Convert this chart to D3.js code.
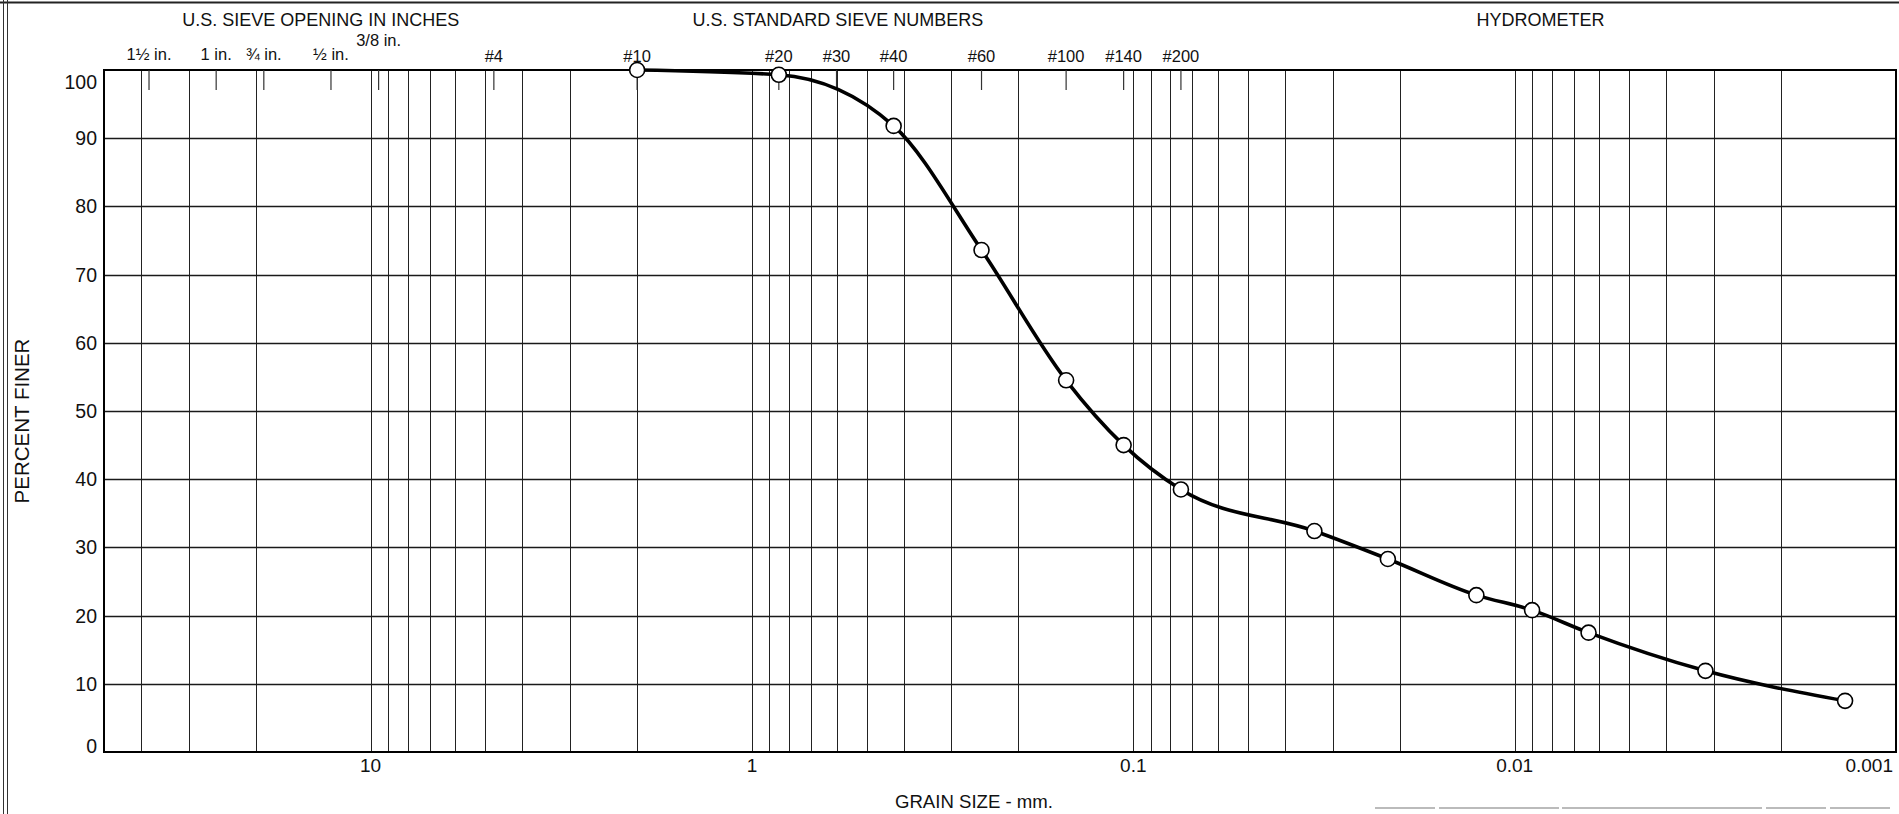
<!DOCTYPE html>
<html>
<head>
<meta charset="utf-8">
<script src="https://cdn.jsdelivr.net/npm/d3@7"></script>
<style>
  html, body { margin: 0; padding: 0; background: #fff; }
  svg { display: block; }
  text { font-family: "Liberation Sans", Arial, sans-serif; fill: #111; }
</style>
</head>
<body>
<svg id="chart" width="1899" height="814"></svg>
<script>
// ---- Data ----
const grainSize    = [2.0, 0.85, 0.425, 0.25, 0.15, 0.106, 0.075, 0.0335, 0.0215, 0.0126, 0.0090, 0.0064, 0.00316, 0.00136];
const percentFiner = [100, 99.3, 91.8, 73.6, 54.5, 45.0, 38.5, 32.4, 28.3, 23.0, 20.8, 17.5, 11.9, 7.5];

const sieveLabels = ["1½ in.", "1 in.", "¾ in.", "½ in.", "3/8 in.", "#4", "#10", "#20", "#30", "#40", "#60", "#100", "#140", "#200"];
const sieveSizes  = [38.1, 25.4, 19.05, 12.7, 9.525, 4.75, 2.0, 0.85, 0.6, 0.425, 0.25, 0.15, 0.106, 0.075];

const xTickValues = [10, 1, 0.1, 0.01, 0.001];
const xTickLabels = ["10", "1", "0.1", "0.01", "0.001"];
const yTickValues = [0, 10, 20, 30, 40, 50, 60, 70, 80, 90, 100];

const headerTitles = ["U.S. SIEVE OPENING IN INCHES", "U.S. STANDARD SIEVE NUMBERS", "HYDROMETER"];
const headerSizes  = [13.5, 0.595, 0.00855]; // grain size over which each header is centred

// ---- Layout ----
const L = 104, R = 1896, T = 70, B = 752;
const svg = d3.select("#chart");

const x = d3.scaleLog().domain([50, 0.001]).range([L, R]);
const y = d3.scaleLinear().domain([0, 100]).range([B, T]);

// page border artefacts
svg.append("line").attr("x1", 0).attr("x2", 1899).attr("y1", 2.5).attr("y2", 2.5)
  .attr("stroke", "#222").attr("stroke-width", 2);
[3, 7].forEach(px => svg.append("line").attr("x1", px + 0.5).attr("x2", px + 0.5).attr("y1", 0).attr("y2", 814)
  .attr("stroke", "#333").attr("stroke-width", 1));
svg.append("line").attr("x1", 1375).attr("x2", 1890).attr("y1", 808).attr("y2", 808)
  .attr("stroke", "#bbb").attr("stroke-width", 2).attr("stroke-dasharray", "60 4 120 3 200 4");

// vertical grid lines (library log ticks: 1..9 per decade)
const vTicks = x.ticks().filter(d => d < 50 && d > 0.001);
svg.append("g").selectAll("line").data(vTicks).join("line")
  .attr("x1", d => Math.round(x(d)) + 0.5).attr("x2", d => Math.round(x(d)) + 0.5)
  .attr("y1", T).attr("y2", B)
  .attr("stroke", "#222").attr("stroke-width", 1);

// horizontal grid lines
svg.append("g").selectAll("line").data(yTickValues.filter(v => v > 0 && v < 100)).join("line")
  .attr("x1", L).attr("x2", R)
  .attr("y1", d => Math.round(y(d)) + 0.5).attr("y2", d => Math.round(y(d)) + 0.5)
  .attr("stroke", "#1a1a1a").attr("stroke-width", 1.4);

// frame
svg.append("rect").attr("x", L).attr("y", T).attr("width", R - L).attr("height", B - T)
  .attr("fill", "none").attr("stroke", "#000").attr("stroke-width", 2);

// sieve ticks
svg.append("g").selectAll("line").data(sieveSizes).join("line")
  .attr("x1", d => x(d)).attr("x2", d => x(d))
  .attr("y1", T).attr("y2", T + 20)
  .attr("stroke", "#333").attr("stroke-width", 1.2);

// sieve labels
svg.append("g").selectAll("text").data(sieveSizes).join("text")
  .attr("x", d => x(d))
  .attr("y", (d, i) => sieveLabels[i] === "3/8 in." ? 46 : (sieveLabels[i].startsWith("#") ? 62 : 60))
  .attr("text-anchor", "middle")
  .attr("font-size", 16.5)
  .text((d, i) => sieveLabels[i]);

// header titles
svg.append("g").selectAll("text").data(headerTitles).join("text")
  .attr("x", (d, i) => x(headerSizes[i]))
  .attr("y", 26)
  .attr("text-anchor", "middle")
  .attr("font-size", 18)
  .text(d => d);

// y axis labels
svg.append("g").selectAll("text").data(yTickValues).join("text")
  .attr("x", L - 7)
  .attr("y", d => y(d) + (d === 100 ? 12 : (d === 0 ? -6 : 0)))
  .attr("dy", "0.36em")
  .attr("text-anchor", "end")
  .attr("font-size", 19.5)
  .text(d => d);

// x axis labels
svg.append("g").selectAll("text").data(xTickValues).join("text")
  .attr("x", (d, i) => i === xTickValues.length - 1 ? R - 3 : x(d))
  .attr("y", 772)
  .attr("text-anchor", (d, i) => i === xTickValues.length - 1 ? "end" : "middle")
  .attr("font-size", 19)
  .text((d, i) => xTickLabels[i]);

// axis titles
svg.append("text").attr("x", 974).attr("y", 808).attr("text-anchor", "middle")
  .attr("font-size", 18.6).text("GRAIN SIZE - mm.");
svg.append("text").attr("transform", "translate(29,421) rotate(-90)")
  .attr("text-anchor", "middle").attr("font-size", 20.5).text("PERCENT FINER");

// curve
const pts = grainSize.map((d, i) => [d, percentFiner[i]]);
const line = d3.line().x(p => x(p[0])).y(p => y(p[1])).curve(d3.curveMonotoneX);
svg.append("path").attr("d", line(pts))
  .attr("fill", "none").attr("stroke", "#000").attr("stroke-width", 3.6)
  .attr("stroke-linejoin", "round");

// points
svg.append("g").selectAll("circle").data(pts).join("circle")
  .attr("cx", p => x(p[0])).attr("cy", p => y(p[1])).attr("r", 7.5)
  .attr("fill", "#fff").attr("stroke", "#000").attr("stroke-width", 1.6);
</script>
</body>
</html>
